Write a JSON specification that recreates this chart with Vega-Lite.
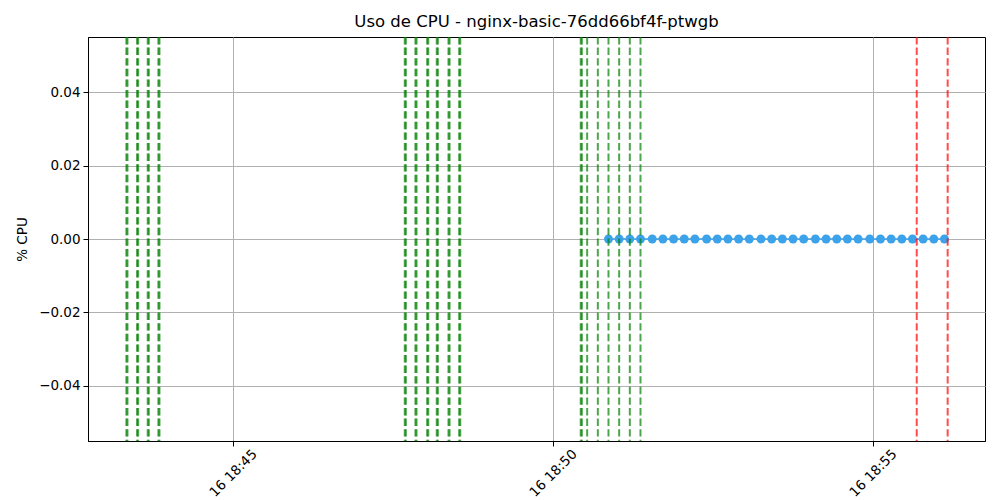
{
  "$schema": "https://vega.github.io/schema/vega-lite/v6.json",
  "width": 897,
  "height": 404,
  "autosize": {"type": "none"},
  "padding": {"left": 88, "top": 37, "right": 15, "bottom": 59},
  "background": "white",
  "title": {"text": "Uso de CPU - nginx-basic-76dd66bf4f-ptwgb", "font": "DejaVu Sans", "fontSize": 16.5, "fontWeight": "normal", "color": "black", "offset": 6, "anchor": "middle"},
  "config": {
    "font": "DejaVu Sans",
    "view": {"stroke": "black", "strokeWidth": 1},
    "axis": {
      "domainColor": "black",
      "tickColor": "black",
      "tickSize": 5,
      "labelPadding": 3,
      "labelFont": "DejaVu Sans",
      "labelFontSize": 13.5,
      "labelColor": "black",
      "gridColor": "#b0b0b0",
      "gridWidth": 1,
      "gridOpacity": 1,
      "titleFont": "DejaVu Sans",
      "titleFontSize": 13.5,
      "titleFontWeight": "normal",
      "titleColor": "black"
    }
  },
  "datasets": {
    "cpu": [
      {"t": "2025-06-16T18:50:52", "cpu": 0},
      {"t": "2025-06-16T18:51:02", "cpu": 0},
      {"t": "2025-06-16T18:51:12", "cpu": 0},
      {"t": "2025-06-16T18:51:22", "cpu": 0},
      {"t": "2025-06-16T18:51:33", "cpu": 0},
      {"t": "2025-06-16T18:51:43", "cpu": 0},
      {"t": "2025-06-16T18:51:53", "cpu": 0},
      {"t": "2025-06-16T18:52:03", "cpu": 0},
      {"t": "2025-06-16T18:52:13", "cpu": 0},
      {"t": "2025-06-16T18:52:24", "cpu": 0},
      {"t": "2025-06-16T18:52:34", "cpu": 0},
      {"t": "2025-06-16T18:52:44", "cpu": 0},
      {"t": "2025-06-16T18:52:54", "cpu": 0},
      {"t": "2025-06-16T18:53:04", "cpu": 0},
      {"t": "2025-06-16T18:53:15", "cpu": 0},
      {"t": "2025-06-16T18:53:25", "cpu": 0},
      {"t": "2025-06-16T18:53:35", "cpu": 0},
      {"t": "2025-06-16T18:53:45", "cpu": 0},
      {"t": "2025-06-16T18:53:55", "cpu": 0},
      {"t": "2025-06-16T18:54:06", "cpu": 0},
      {"t": "2025-06-16T18:54:16", "cpu": 0},
      {"t": "2025-06-16T18:54:26", "cpu": 0},
      {"t": "2025-06-16T18:54:36", "cpu": 0},
      {"t": "2025-06-16T18:54:46", "cpu": 0},
      {"t": "2025-06-16T18:54:57", "cpu": 0},
      {"t": "2025-06-16T18:55:07", "cpu": 0},
      {"t": "2025-06-16T18:55:17", "cpu": 0},
      {"t": "2025-06-16T18:55:27", "cpu": 0},
      {"t": "2025-06-16T18:55:37", "cpu": 0},
      {"t": "2025-06-16T18:55:47", "cpu": 0},
      {"t": "2025-06-16T18:55:57", "cpu": 0},
      {"t": "2025-06-16T18:56:07", "cpu": 0}
    ],
    "events": [
      {"t": "2025-06-16T18:43:20", "kind": "ok"},
      {"t": "2025-06-16T18:43:21", "kind": "ok"},
      {"t": "2025-06-16T18:43:30", "kind": "ok"},
      {"t": "2025-06-16T18:43:31", "kind": "ok"},
      {"t": "2025-06-16T18:43:40", "kind": "ok"},
      {"t": "2025-06-16T18:43:41", "kind": "ok"},
      {"t": "2025-06-16T18:43:50", "kind": "ok"},
      {"t": "2025-06-16T18:43:51", "kind": "ok"},
      {"t": "2025-06-16T18:47:41", "kind": "ok"},
      {"t": "2025-06-16T18:47:42", "kind": "ok"},
      {"t": "2025-06-16T18:47:51", "kind": "ok"},
      {"t": "2025-06-16T18:47:52", "kind": "ok"},
      {"t": "2025-06-16T18:48:02", "kind": "ok"},
      {"t": "2025-06-16T18:48:03", "kind": "ok"},
      {"t": "2025-06-16T18:48:11", "kind": "ok"},
      {"t": "2025-06-16T18:48:12", "kind": "ok"},
      {"t": "2025-06-16T18:48:22", "kind": "ok"},
      {"t": "2025-06-16T18:48:23", "kind": "ok"},
      {"t": "2025-06-16T18:48:32", "kind": "ok"},
      {"t": "2025-06-16T18:48:33", "kind": "ok"},
      {"t": "2025-06-16T18:50:26", "kind": "ok"},
      {"t": "2025-06-16T18:50:27", "kind": "ok"},
      {"t": "2025-06-16T18:50:32", "kind": "ok"},
      {"t": "2025-06-16T18:50:42", "kind": "ok"},
      {"t": "2025-06-16T18:50:52", "kind": "ok"},
      {"t": "2025-06-16T18:51:02", "kind": "ok"},
      {"t": "2025-06-16T18:51:12", "kind": "ok"},
      {"t": "2025-06-16T18:51:22", "kind": "ok"},
      {"t": "2025-06-16T18:55:41", "kind": "fail"},
      {"t": "2025-06-16T18:56:10", "kind": "fail"}
    ]
  },
  "encoding": {
    "x": {
      "field": "t",
      "type": "temporal",
      "scale": {"domain": [
        {"year": 2025, "month": 6, "date": 16, "hours": 18, "minutes": 42, "seconds": 44},
        {"year": 2025, "month": 6, "date": 16, "hours": 18, "minutes": 56, "seconds": 45}
      ]},
      "axis": {
        "title": null,
        "values": [
          {"year": 2025, "month": 6, "date": 16, "hours": 18, "minutes": 45},
          {"year": 2025, "month": 6, "date": 16, "hours": 18, "minutes": 50},
          {"year": 2025, "month": 6, "date": 16, "hours": 18, "minutes": 55}
        ],
        "format": "%d %H:%M",
        "labelAngle": -45,
        "labelAlign": "center",
        "labelBaseline": "middle",
        "labelPadding": 27,
        "labelFlush": false
      }
    }
  },
  "layer": [
    {
      "data": {"name": "cpu"},
      "mark": {"type": "line", "color": "#3ca2ea", "strokeWidth": 1.5},
      "encoding": {
        "y": {
          "field": "cpu",
          "type": "quantitative",
          "scale": {"domain": [-0.055, 0.055], "nice": false, "zero": false},
          "axis": {"title": "% CPU", "values": [-0.04, -0.02, 0, 0.02, 0.04], "format": ".2f", "titlePadding": 9}
        }
      }
    },
    {
      "data": {"name": "cpu"},
      "mark": {"type": "point", "filled": true, "size": 80, "color": "#3ca2ea", "opacity": 1},
      "encoding": {
        "y": {"field": "cpu", "type": "quantitative"}
      }
    },
    {
      "data": {"name": "events"},
      "mark": {"type": "rule", "strokeDash": [7.4, 3.2], "strokeWidth": 2, "opacity": 0.7},
      "encoding": {
        "color": {"field": "kind", "type": "nominal", "scale": {"domain": ["ok", "fail"], "range": ["green", "red"]}, "legend": null}
      }
    }
  ]
}
